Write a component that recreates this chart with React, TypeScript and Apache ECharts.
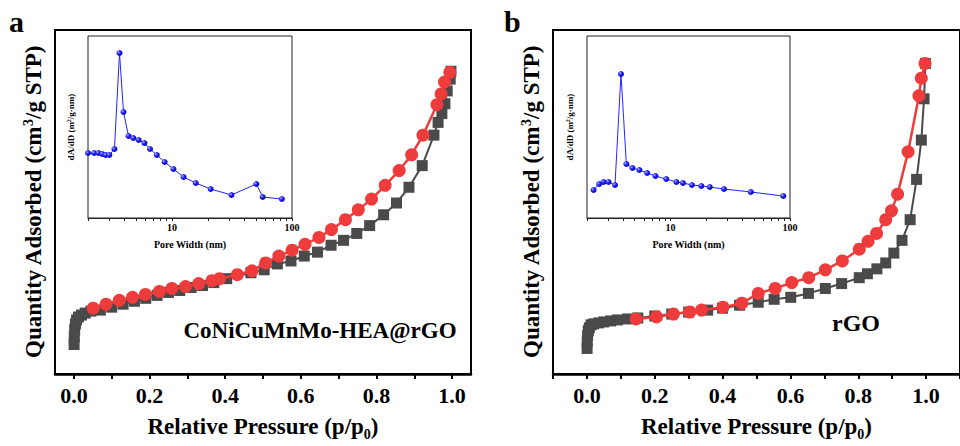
import React, { useEffect, useRef } from 'react';
import * as echarts from 'echarts';

const FONT = 'Liberation Serif, serif';

// ---- Panel a: CoNiCuMnMo-HEA@rGO isotherm (quantity in arbitrary units) ----
const adsA_P = [0.0005, 0.001, 0.002, 0.004, 0.007, 0.012, 0.02, 0.03, 0.045, 0.07, 0.10, 0.13, 0.16, 0.19, 0.22, 0.25, 0.28, 0.31, 0.34, 0.37, 0.404, 0.468, 0.503, 0.538, 0.574, 0.609, 0.644, 0.680, 0.713, 0.748, 0.782, 0.819, 0.853, 0.886, 0.921, 0.952, 0.963, 0.973, 0.981, 0.987, 0.995, 0.997];
const adsA_Q = [30, 38, 45, 51, 55, 58, 60, 62, 64, 65, 68, 71, 74, 77, 80, 83, 85, 88, 90, 93, 97, 103, 106, 112, 115, 120, 124, 131, 136, 143, 151, 162, 174, 190, 212, 243, 256, 265, 275, 288, 300, 308];
const desA_P = [0.051, 0.085, 0.120, 0.155, 0.189, 0.226, 0.259, 0.295, 0.330, 0.365, 0.385, 0.432, 0.471, 0.507, 0.542, 0.577, 0.611, 0.648, 0.681, 0.718, 0.752, 0.787, 0.823, 0.860, 0.893, 0.923, 0.960, 0.971, 0.980, 0.994];
const desA_Q = [67, 71, 75, 78, 81, 84, 87, 89, 92, 95, 97, 101, 105, 113, 120, 126, 132, 139, 147, 157, 167, 178, 192, 207, 223, 243, 274, 285, 297, 307];

// ---- Panel b: rGO isotherm ----
const adsB_P = [0.0005, 0.001, 0.002, 0.004, 0.007, 0.012, 0.02, 0.035, 0.05, 0.07, 0.09, 0.12, 0.15, 0.2, 0.25, 0.3, 0.356, 0.4, 0.45, 0.505, 0.552, 0.601, 0.653, 0.703, 0.751, 0.803, 0.827, 0.855, 0.881, 0.905, 0.929, 0.953, 0.972, 0.986, 0.994, 0.998];
const adsB_Q = [26, 33, 39, 44, 47, 50, 51, 52, 53, 54, 55, 56, 57, 59, 61, 63, 65, 67, 70, 73, 76, 78, 82, 87, 92, 98, 102, 107, 113, 123, 136, 157, 198, 238, 280, 316];
const desB_P = [0.145, 0.205, 0.255, 0.303, 0.338, 0.401, 0.457, 0.505, 0.555, 0.604, 0.654, 0.703, 0.753, 0.803, 0.829, 0.854, 0.881, 0.898, 0.916, 0.947, 0.979, 0.986, 0.997];
const desB_Q = [56, 58, 61, 63, 65, 68, 72, 82, 87, 93, 98, 106, 115, 127, 135, 143, 157, 166, 183, 226, 283, 301, 316];

// ---- Insets: pore size distribution (pore width nm, dA/dD arbitrary units) ----
const poreA_D = [2.0, 2.25, 2.44, 2.63, 2.81, 3.01, 3.32, 3.66, 3.95, 4.35, 4.77, 5.28, 5.90, 6.57, 7.48, 8.69, 10.3, 12.5, 15.8, 21.0, 31.3, 50.5, 57.0, 82.4];
const poreA_V = [65, 65, 65, 64, 63, 63, 69, 165, 106, 82, 80, 78, 75, 69, 63, 56, 49, 41, 35, 29, 23, 34, 21, 19];
const poreB_D = [2.27, 2.53, 2.75, 3.03, 3.43, 3.85, 4.27, 4.80, 5.49, 6.37, 7.48, 9.21, 11.2, 12.7, 15.1, 18.1, 21.3, 28.0, 47.0, 87.9];
const poreB_V = [28, 34, 36, 36, 33, 144, 54, 50, 48, 45, 42, 39, 36, 35, 33, 32, 31, 29, 26, 22];

// ---- Tick values ----
const mainTicksA = [0, 0.1, 0.2, 0.3, 0.4, 0.5, 0.6, 0.7, 0.8, 0.9, 1.0];
const mainTicksB = [-0.1, 0, 0.1, 0.2, 0.3, 0.4, 0.5, 0.6, 0.7, 0.8, 0.9, 1.0, 1.1];
const mainLabels = [0, 0.2, 0.4, 0.6, 0.8, 1.0];
const poreTicks = [2, 3, 4, 5, 6, 7, 8, 9, 10, 20, 30, 40, 50, 60, 70, 80, 90, 100];
const poreLabels = [10, 100];

const GRAY = '#4a4a4a';
const RED = '#ee3b3b';
const BLUE = '#2525ff';

const zip = (a: number[], b: number[]) => a.map((v, i) => [v, b[i]]);
const zipLog = (a: number[], b: number[]) => a.map((v, i) => [Math.log10(v), b[i]]);

const richSub = {
  sub: { fontSize: 14, fontWeight: 'bold', fontFamily: FONT, color: '#000', verticalAlign: 'bottom', lineHeight: 10 },
};
const richSup = {
  sup: { fontSize: 14, fontWeight: 'bold', fontFamily: FONT, color: '#000', verticalAlign: 'top', lineHeight: 10 },
};
const richSupSmall = {
  sup: { fontSize: 6, fontWeight: 'bold', fontFamily: FONT, color: '#000', verticalAlign: 'top', lineHeight: 5 },
};

function mainX(gridIndex: number, min: number, max: number, ticks: number[]) {
  return {
    type: 'value', gridIndex, min, max,
    axisLine: { show: true, onZero: false, lineStyle: { color: '#000', width: 2.5 } },
    axisTick: { show: true, inside: false, length: 5, customValues: ticks, lineStyle: { color: '#000', width: 2 } },
    axisLabel: {
      customValues: mainLabels, margin: 10, formatter: (v: number) => v.toFixed(1),
      fontFamily: FONT, fontWeight: 'bold', fontSize: 22, color: '#000',
    },
    splitLine: { show: false },
    name: 'Relative Pressure (p/p{sub|0})', nameLocation: 'middle', nameGap: 37,
    nameTextStyle: { fontFamily: FONT, fontWeight: 'bold', fontSize: 23, color: '#000', lineHeight: 30, rich: richSub },
  };
}
function mainY(gridIndex: number) {
  return {
    type: 'value', gridIndex, min: 0, max: 350,
    axisLine: { show: false }, axisTick: { show: false }, axisLabel: { show: false }, splitLine: { show: false },
    name: 'Quantity Adsorbed (cm{sup|3}/g STP)', nameLocation: 'middle', nameRotate: 90, nameGap: 10,
    nameTextStyle: { fontFamily: FONT, fontWeight: 'bold', fontSize: 23, color: '#000', lineHeight: 24, rich: richSup },
  };
}
function insetX(gridIndex: number) {
  return {
    type: 'value', gridIndex, min: Math.log10(2), max: 2,
    axisLine: { show: true, onZero: false, lineStyle: { color: '#222', width: 1 } },
    axisTick: { show: true, inside: false, length: 3, customValues: poreTicks.map((v) => Math.log10(v)), lineStyle: { color: '#222', width: 1 } },
    axisLabel: {
      customValues: poreLabels.map((v) => Math.log10(v)), margin: 4,
      formatter: (v: number) => String(Math.round(Math.pow(10, v))),
      fontFamily: FONT, fontWeight: 'bold', fontSize: 10, color: '#000',
    },
    splitLine: { show: false },
    name: 'Pore Width (nm)', nameLocation: 'middle', nameGap: 21,
    nameTextStyle: { fontFamily: FONT, fontWeight: 'bold', fontSize: 10, color: '#000' },
  };
}
function insetY(gridIndex: number) {
  return {
    type: 'value', gridIndex, min: 0, max: 182,
    axisLine: { show: false }, axisTick: { show: false }, axisLabel: { show: false }, splitLine: { show: false },
    name: 'dA/dD (m{sup|2}/g·nm)', nameLocation: 'middle', nameRotate: 90, nameGap: 12,
    nameTextStyle: { fontFamily: FONT, fontWeight: 'bold', fontSize: 9, color: '#000', lineHeight: 10, rich: richSupSmall },
  };
}

const blueBall = () =>
  new echarts.graphic.RadialGradient(0.35, 0.35, 0.7, [
    { offset: 0, color: '#b0b0ff' },
    { offset: 0.45, color: '#2020ff' },
    { offset: 1, color: '#0000b0' },
  ]);

function isoSeries(x: number, y: number, data: number[][], kind: 'ads' | 'des') {
  const isAds = kind === 'ads';
  return {
    type: 'line', xAxisIndex: x, yAxisIndex: y, data,
    symbol: isAds ? 'rect' : 'circle', symbolSize: isAds ? 11 : 13,
    showSymbol: true, showAllSymbol: true,
    lineStyle: { color: isAds ? GRAY : RED, width: isAds ? 2 : 2.5 },
    itemStyle: { color: isAds ? GRAY : RED },
    z: isAds ? 2 : 3,
  };
}
function poreSeries(x: number, y: number, data: number[][]) {
  return {
    type: 'line', xAxisIndex: x, yAxisIndex: y, data,
    symbol: 'circle', symbolSize: 6, showSymbol: true, showAllSymbol: true,
    lineStyle: { color: BLUE, width: 1 },
    itemStyle: { color: blueBall() },
    z: 4,
  };
}

export default function App() {
  const ref = useRef<HTMLDivElement>(null);
  useEffect(() => {
    if (!ref.current) return;
    const chart = echarts.init(ref.current, undefined, { renderer: 'svg' });
    const option: any = {
      animation: false,
      backgroundColor: '#fff',
      textStyle: { fontFamily: FONT },
      grid: [
        { left: 55, top: 30, width: 416, height: 350, show: true, borderColor: '#000', borderWidth: 2, containLabel: false },
        { left: 88, top: 36, width: 204, height: 182, show: true, borderColor: '#222', borderWidth: 1, containLabel: false },
        { left: 553, top: 30, width: 415, height: 350, show: true, borderColor: '#000', borderWidth: 2, containLabel: false },
        { left: 587, top: 36, width: 203, height: 182, show: true, borderColor: '#222', borderWidth: 1, containLabel: false },
      ],
      xAxis: [mainX(0, -0.05, 1.05, mainTicksA), insetX(1), mainX(2, -0.1, 1.1, mainTicksB), insetX(3)],
      yAxis: [mainY(0), insetY(1), mainY(2), insetY(3)],
      series: [
        isoSeries(0, 0, zip(adsA_P, adsA_Q), 'ads'),
        isoSeries(0, 0, zip(desA_P, desA_Q), 'des'),
        poreSeries(1, 1, zipLog(poreA_D, poreA_V)),
        isoSeries(2, 2, zip(adsB_P, adsB_Q), 'ads'),
        isoSeries(2, 2, zip(desB_P, desB_Q), 'des'),
        poreSeries(3, 3, zipLog(poreB_D, poreB_V)),
      ],
      graphic: [
        { type: 'text', left: 9, top: 6, style: { text: 'a', fontFamily: FONT, fontWeight: 'bold', fontSize: 30, fill: '#000' } },
        { type: 'text', left: 504, top: 6, style: { text: 'b', fontFamily: FONT, fontWeight: 'bold', fontSize: 30, fill: '#000' } },
        { type: 'text', x: 320, y: 330, style: { text: 'CoNiCuMnMo-HEA@rGO', fontFamily: FONT, fontWeight: 'bold', fontSize: 23, fill: '#000', align: 'center', verticalAlign: 'middle' } },
        { type: 'text', x: 856, y: 323, style: { text: 'rGO', fontFamily: FONT, fontWeight: 'bold', fontSize: 24, fill: '#000', align: 'center', verticalAlign: 'middle' } },
      ],
    };
    chart.setOption(option);
    return () => chart.dispose();
  }, []);
  return (
    <div
      ref={ref}
      style={{ position: 'fixed', left: 0, top: 0, width: 960, height: 446, background: '#fff' }}
    />
  );
}
